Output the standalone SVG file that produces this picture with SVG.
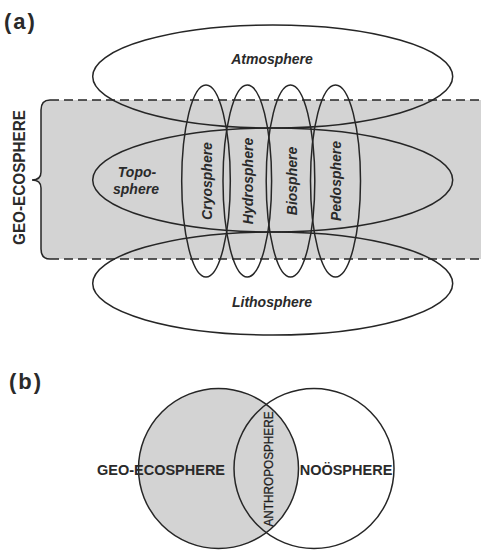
<svg xmlns="http://www.w3.org/2000/svg" width="481" height="550" viewBox="0 0 481 550">
<style>
.ln{fill:none;stroke:#262626;stroke-width:1.5}
.dash{fill:none;stroke:#262626;stroke-width:1.4;stroke-dasharray:9 5}
.lab{font-family:"Liberation Sans",Arial,sans-serif;font-weight:bold;font-style:italic;font-size:14px;fill:#2a2a2a;text-anchor:middle}
.cap{font-family:"Liberation Sans",Arial,sans-serif;font-weight:bold;fill:#2a2a2a}
.pl{font-family:"Liberation Sans",Arial,sans-serif;font-weight:bold;font-size:22px;fill:#2a2a2a;letter-spacing:2px}
</style>
<rect width="481" height="550" fill="#ffffff"/>
<text class="pl" x="4" y="29">(a)</text>
<text class="pl" x="9" y="389">(b)</text>

<g id="geo-ecosphere-band">
<path d="M50 100 Q41 100 41 110 L41 172 Q41 180 32 180 Q41 180 41 188 L41 249 Q41 259 50 259 L481 259 L481 100 Z" fill="#d3d3d3" stroke="none"/>
<path class="ln" d="M50 100 Q41 100 41 110 L41 172 Q41 180 32 180 Q41 180 41 188 L41 249 Q41 259 50 259"/>
<line class="dash" x1="50" y1="100" x2="481" y2="100"/>
<line class="dash" x1="50" y1="259" x2="481" y2="259"/>
<text class="cap" font-size="16" text-anchor="middle" textLength="135" lengthAdjust="spacingAndGlyphs" transform="translate(24.5,177.5) rotate(-90)">GEO-ECOSPHERE</text>
</g>

<g id="atmosphere">
<ellipse class="ln" cx="272.7" cy="76.5" rx="180" ry="51.5"/>
<text class="lab" x="272" y="64">Atmosphere</text>
</g>
<g id="toposphere">
<ellipse class="ln" cx="272.7" cy="180" rx="180" ry="52"/>
<text class="lab" x="137" y="177">Topo-</text>
<text class="lab" x="136" y="193.5">sphere</text>
</g>
<g id="lithosphere">
<ellipse class="ln" cx="272.7" cy="283.5" rx="180" ry="51.5"/>
<text class="lab" x="272" y="306.5">Lithosphere</text>
</g>
<g id="cryosphere">
<ellipse class="ln" cx="206" cy="181" rx="24.3" ry="96"/>
<text class="lab" transform="translate(211.5,181) rotate(-90)">Cryosphere</text>
</g>
<g id="hydrosphere">
<ellipse class="ln" cx="247.3" cy="181" rx="24.3" ry="96"/>
<text class="lab" transform="translate(253,181) rotate(-90)">Hydrosphere</text>
</g>
<g id="biosphere">
<ellipse class="ln" cx="290.5" cy="181" rx="24.3" ry="96"/>
<text class="lab" transform="translate(296.5,181) rotate(-90)">Biosphere</text>
</g>
<g id="pedosphere">
<ellipse class="ln" cx="335.5" cy="181" rx="25" ry="96"/>
<text class="lab" transform="translate(341,181) rotate(-90)">Pedosphere</text>
</g>

<g id="geo-ecosphere-b">
<circle cx="218.5" cy="468.5" r="80" fill="#d3d3d3" stroke="#262626" stroke-width="1.5"/>
<text class="cap" font-size="14.5" x="161" y="474.5" text-anchor="middle">GEO-ECOSPHERE</text>
</g>
<g id="noosphere">
<circle class="ln" cx="314" cy="468.5" r="80"/>
<text class="cap" font-size="14.5" x="346" y="475" text-anchor="middle">NOÖSPHERE</text>
</g>
<g id="anthroposphere">
<text font-family="'Liberation Sans',Arial,sans-serif" font-size="13" fill="#1e1e1e" stroke="#1e1e1e" stroke-width="0.3" text-anchor="middle" textLength="115" lengthAdjust="spacingAndGlyphs" transform="translate(273,469) rotate(-90)">ANTHROPOSPHERE</text>
</g>
<g id="connectors"></g>
</svg>
